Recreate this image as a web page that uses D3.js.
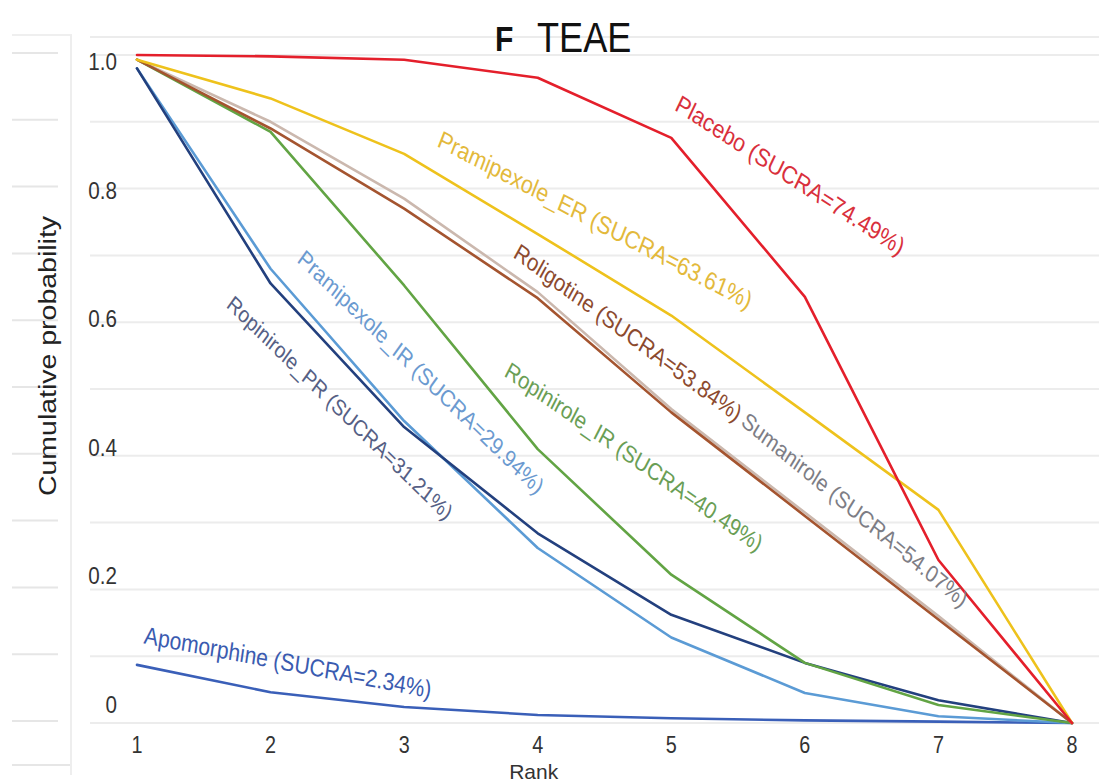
<!DOCTYPE html>
<html>
<head>
<meta charset="utf-8">
<script src="https://cdn.jsdelivr.net/npm/d3@7"></script>
<style>
  body { margin: 0; background: #ffffff; }
  svg text { font-family: "Liberation Sans", Arial, sans-serif; }
</style>
</head>
<body>
<svg id="chart" width="1099" height="781"></svg>
<script>
// Cumulative ranking curves for treatment-emergent adverse events (TEAE)
const ranks = [1, 2, 3, 4, 5, 6, 7, 8];
const yTickValues = [0, 0.2, 0.4, 0.6, 0.8, 1.0];
const yTickLabels = ["0", "0.2", "0.4", "0.6", "0.8", "1.0"];
const gridValues = [0, 0.1, 0.2, 0.3, 0.4, 0.5, 0.6, 0.7, 0.8, 0.9, 1.0];

const treatments = ["Apomorphine", "Pramipexole_IR", "Ropinirole_PR", "Ropinirole_IR",
                    "Sumanirole", "Roligotine", "Pramipexole_ER", "Placebo"];
const sucra = [2.34, 29.94, 31.21, 40.49, 54.07, 53.84, 63.61, 74.49];

const apomorphine   = [0.087, 0.046, 0.024, 0.012, 0.007, 0.004, 0.002, 0];
const pramipexoleIR = [0.98, 0.68, 0.452, 0.262, 0.128, 0.045, 0.01, 0];
const ropinirolePR  = [0.98, 0.658, 0.443, 0.284, 0.162, 0.09, 0.034, 0];
const ropiniroleIR  = [0.993, 0.885, 0.655, 0.41, 0.222, 0.09, 0.027, 0];
const sumanirole    = [0.993, 0.9, 0.785, 0.645, 0.47, 0.315, 0.16, 0];
const roligotine    = [0.993, 0.89, 0.77, 0.636, 0.465, 0.31, 0.155, 0];
const pramipexoleER = [0.993, 0.935, 0.852, 0.732, 0.61, 0.465, 0.319, 0];
const placebo       = [1.0, 0.998, 0.993, 0.966, 0.876, 0.638, 0.244, 0];

const seriesValues = [apomorphine, pramipexoleIR, ropinirolePR, ropiniroleIR,
                      sumanirole, roligotine, pramipexoleER, placebo];

const lineColors  = ["#3a5fb8", "#5b9bd5", "#23407e", "#62a444",
                     "#cbb8ae", "#a4542f", "#eec21c", "#e41f2b"];
const labelColors = ["#3a5bb0", "#6b9ad0", "#565f85", "#6a9e55",
                     "#7d7d85", "#8c4a2e", "#e3b93b", "#d9303c"];

// label placement in data units (rank, probability), visible slope angle, font size
const labelRank  = [2.13, 3.126, 2.52, 4.72, 6.374, 4.675, 4.43, 5.89];
const labelProb  = [0.091, 0.525, 0.472, 0.398, 0.319, 0.584, 0.753, 0.82];
const labelAngle = [10.8, 44.3, 44.3, 34.9, 39.7, 36.5, 27.7, 33];
const labelSize  = [24.5, 23.5, 22.5, 23.8, 23.5, 24, 25, 25];

// text in this figure is drawn horizontally condensed
const SX = 0.86;

const svg = d3.select("#chart");
const x = d3.scaleLinear().domain([1, 8]).range([137, 1072]);
const y = d3.scaleLinear().domain([0, 1]).range([723, 55]);
const yLabel = d3.scaleLinear().domain([0, 1]).range([705, 62]);

// faint strip of an adjacent panel on the far left
const strip = svg.append("g").attr("stroke", "#e6e6e6").attr("stroke-width", 2);
strip.selectAll("line.stub").data(gridValues).join("line")
  .attr("class", "stub")
  .attr("x1", 12).attr("x2", 58)
  .attr("y1", d => y(d) - 2).attr("y2", d => y(d) - 2);
strip.append("line").attr("x1", 12).attr("x2", 72).attr("y1", 35).attr("y2", 35).attr("stroke", "#efefef");
strip.append("line").attr("x1", 12).attr("x2", 72).attr("y1", 765).attr("y2", 765);
strip.append("line").attr("x1", 71).attr("x2", 71).attr("y1", 35).attr("y2", 775).attr("stroke", "#eeeeee");

// horizontal gridlines
const grid = svg.append("g").attr("stroke", "#ececec").attr("stroke-width", 2);
grid.selectAll("line").data(gridValues).join("line")
  .attr("x1", 90).attr("x2", 1099)
  .attr("y1", d => y(d)).attr("y2", d => y(d));
grid.append("line").attr("x1", 90).attr("x2", 1099).attr("y1", 37).attr("y2", 37);

// title
svg.append("text").attr("transform", `translate(495,51) scale(${SX},1)`)
  .attr("font-size", 35).attr("font-weight", "bold").attr("fill", "#111").text("F");
svg.append("text").attr("transform", `translate(537,52) scale(${SX},1)`)
  .attr("font-size", 42).attr("fill", "#111").text("TEAE");

// y axis tick labels
svg.append("g").selectAll("text").data(yTickValues).join("text")
  .attr("transform", d => `translate(117,${yLabel(d)}) scale(${SX},1)`)
  .attr("text-anchor", "end").attr("dominant-baseline", "central")
  .attr("font-size", 24).attr("fill", "#333")
  .text((d, i) => yTickLabels[i]);

// y axis title
svg.append("text").attr("transform", `translate(48,356) scale(${SX},1) rotate(-90)`)
  .attr("text-anchor", "middle").attr("dominant-baseline", "central")
  .attr("font-size", 28.5).attr("fill", "#222").text("Cumulative probability");

// x axis tick labels
svg.append("g").selectAll("text").data(ranks).join("text")
  .attr("transform", d => `translate(${x(d)},745) scale(${SX},1)`)
  .attr("text-anchor", "middle").attr("dominant-baseline", "central")
  .attr("font-size", 23).attr("fill", "#333").text(d => d);

svg.append("text").attr("x", x(4) - 4).attr("y", 771)
  .attr("text-anchor", "middle").attr("dominant-baseline", "central")
  .attr("font-size", 21).attr("fill", "#333").text("Rank");

// ranking curves
const line = d3.line().x((d, i) => x(ranks[i])).y(d => y(d));
svg.append("g").attr("fill", "none").attr("stroke-width", 2.6)
  .attr("stroke-linejoin", "round").attr("stroke-linecap", "round")
  .selectAll("path").data(seriesValues).join("path")
  .attr("d", line)
  .attr("stroke", (d, i) => lineColors[i]);

// slanted curve labels
function slant(deg) {
  return Math.atan(Math.tan(deg * Math.PI / 180) * SX) * 180 / Math.PI;
}
svg.append("g").selectAll("text").data(treatments).join("text")
  .attr("transform", (d, i) =>
    `translate(${x(labelRank[i])},${y(labelProb[i])}) scale(${SX},1) rotate(${slant(labelAngle[i])})`)
  .attr("text-anchor", "middle").attr("dominant-baseline", "central")
  .attr("font-size", (d, i) => labelSize[i]).attr("fill", (d, i) => labelColors[i])
  .text((d, i) => `${d} (SUCRA=${sucra[i].toFixed(2)}%)`);
</script>
</body>
</html>
